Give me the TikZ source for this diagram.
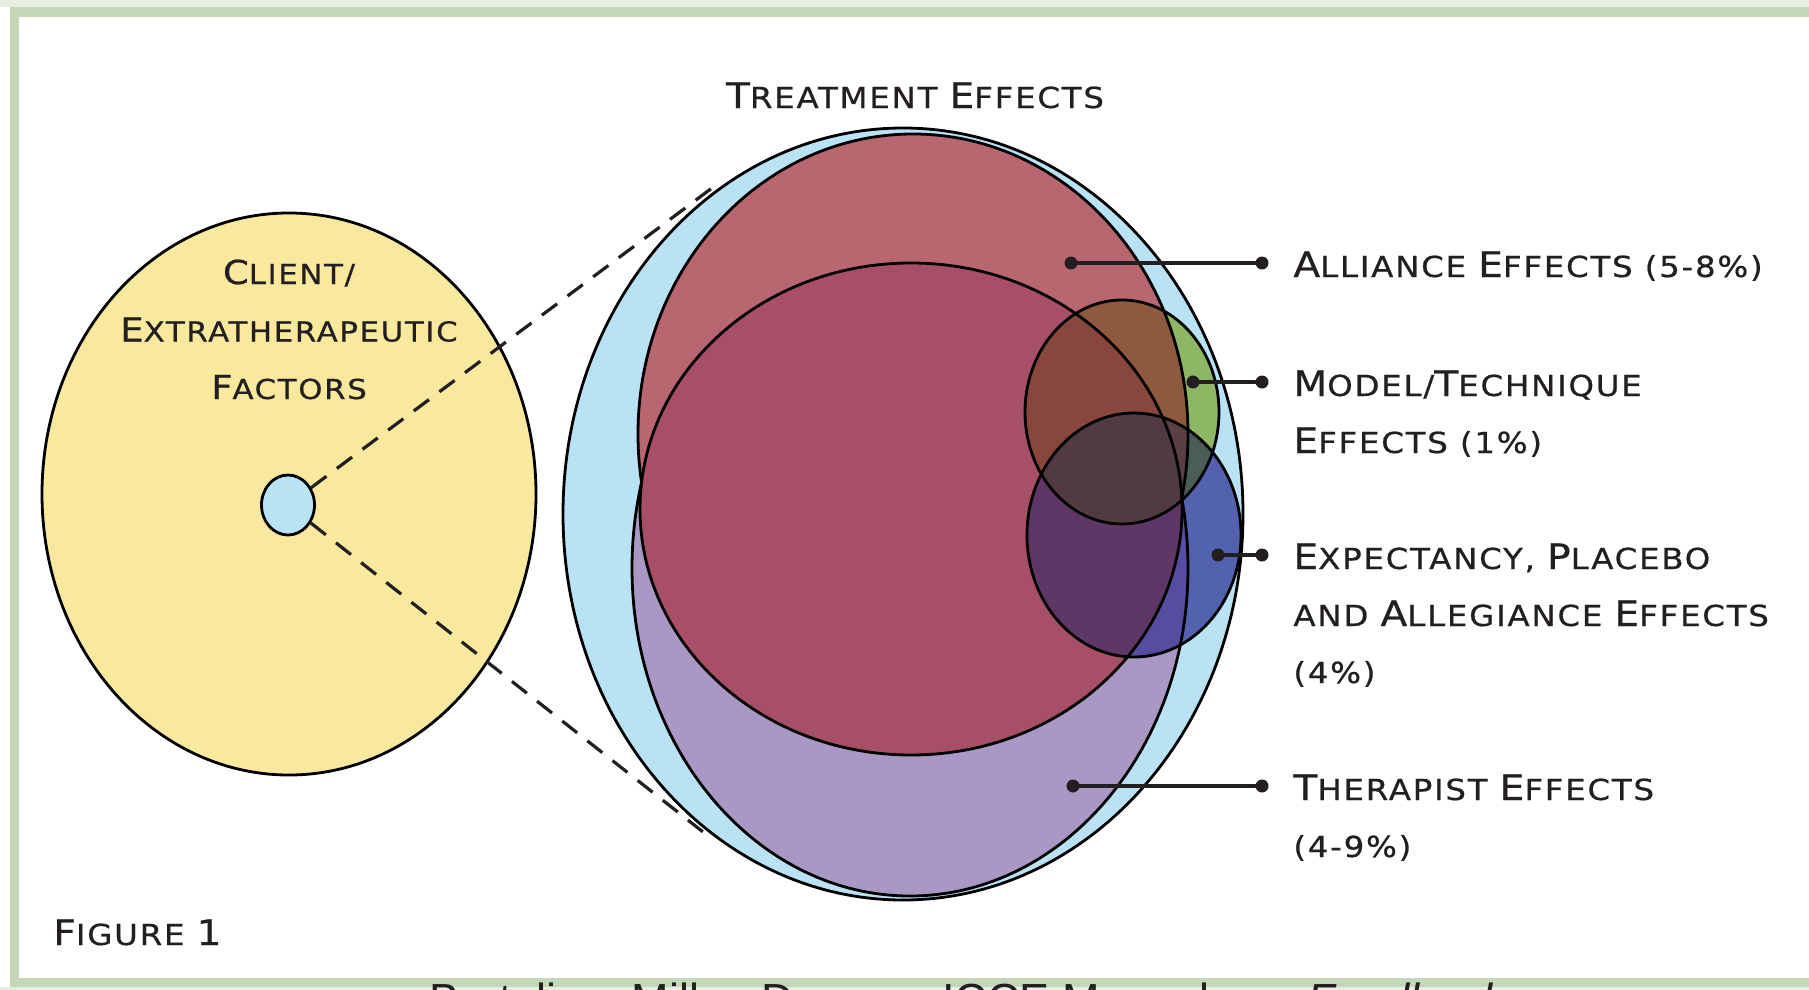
\documentclass[tikz,border=0pt]{standalone}
\usepackage{fontspec}
\usetikzlibrary{shapes.geometric}
\setmainfont{Liberation Sans}
\newfontfamily\bankfont[FakeStretch=1.12,LetterSpace=6,FakeBold=0.6]{DejaVu Sans}
\definecolor{framegreen}{HTML}{C4D7B9}
\definecolor{framelight}{HTML}{E7EFE3}
\definecolor{mytext}{HTML}{231F20}
\definecolor{myyellow}{HTML}{F8E99E}
\definecolor{mysky}{HTML}{B9E3F5}
\definecolor{mypink}{HTML}{B8666F}
\definecolor{mycrimson}{HTML}{A64F66}
\definecolor{mylilac}{HTML}{A998C4}
%% colours of the parts of the two small circles
\definecolor{gsky}{HTML}{8DB764}
\definecolor{gpink}{HTML}{8D5A3F}
\definecolor{gred}{HTML}{88473D}
\definecolor{bsky}{HTML}{5362AE}
\definecolor{blilac}{HTML}{564DA0}
\definecolor{bred}{HTML}{5E3767}
\definecolor{gbsky}{HTML}{4B5D58}
\definecolor{gbpink}{HTML}{5A3F45}
\definecolor{gbred}{HTML}{523A42}
%% big first letter, the rest of the word stays small
\newcommand{\Ini}[2][35]{{\fontsize{#1}{57}\selectfont #2}}
%% the shapes of the treatment side, used more than once
\newcommand{\pinkpath}{(913,434) ellipse [x radius=275, y radius=300]}
\newcommand{\redpath}{(911,509) ellipse [x radius=271, y radius=246]}
\newcommand{\lilacpath}{(910,568) ellipse [x radius=278, y radius=328]}
\newcommand{\greenpath}{(1122,412) ellipse [x radius=97, y radius=112]}
\newcommand{\bluepath}{(1134,535) ellipse [x radius=107, y radius=122]}

\begin{document}
\begin{tikzpicture}[x=1pt,y=-1pt,line width=2.8pt,
	tag/.style={font=\bankfont\fontsize{29}{57}\selectfont, text=mytext, inner xsep=30pt, inner ysep=0pt, anchor=base west, align=left},
	lead/.style={line width=3.5pt, draw=mytext}]
		\useasboundingbox (0,0) rectangle (1809,990);
		\clip (0,0) rectangle (1809,990);
		%% frame of the figure
		\fill[framelight] (0,0) rectangle (1809,7);
		\fill[framelight] (0,987) rectangle (1809,990);
		\draw[framegreen, line width=9.5pt] (14.5,12) rectangle (1850,982.5);
		%% left side: the client ellipse with the small treatment circle in it
		%% (a node with several lines sits on the baseline of its last line)
		\filldraw[fill=myyellow, draw=black] (289,494) ellipse [x radius=247, y radius=281];
		\node[font=\bankfont\fontsize{27.5}{57.5}\selectfont, text=mytext, align=center, anchor=base, inner sep=0pt] (client) at (289,399)
			{\Ini[33]{C}LIENT/\\ \Ini[33]{E}XTRATHERAPEUTIC\\ \Ini[33]{F}ACTORS};
		\node[ellipse, draw=black, fill=mysky, minimum width=53pt, minimum height=60pt, inner sep=0pt] (core) at (288,505) {};
		\coordinate (zoomtop) at (712,188);
		\coordinate (zoombot) at (712,839);
		\draw[dash pattern=on 19pt off 13pt, line width=3.2pt, mytext] (core) -- (zoomtop);
		\draw[dash pattern=on 19pt off 13pt, line width=3.2pt, mytext] (core) -- (zoombot);
		%% right side: the treatment effects
		\filldraw[fill=mysky, draw=black] (903,514) ellipse [x radius=340, y radius=386];
		\filldraw[fill=mylilac, draw=black] \lilacpath;
		\filldraw[fill=mypink, draw=black] \pinkpath;
		\filldraw[fill=mycrimson, draw=black] \redpath;
		%% green circle, one colour for each part it lies on
		\begin{scope}
			\clip \greenpath;
			\fill[gsky] \greenpath;
			\fill[gpink] \pinkpath;
			\fill[gred] \redpath;
		\end{scope}
		%% blue circle, and where it meets the green one
		\begin{scope}
			\clip \bluepath;
			\fill[bsky] \bluepath;
			\fill[blilac] \lilacpath;
			\fill[bred] \pinkpath;
			\fill[bred] \redpath;
			\clip \greenpath;
			\fill[gbsky] \greenpath;
			\fill[gbpink] \pinkpath;
			\fill[gbred] \redpath;
		\end{scope}
		%% outlines that run through the two circles
		\begin{scope}
			\clip \greenpath \bluepath;
			\draw \redpath;
			\begin{scope}
				\clip (0,0) rectangle (1809,498);
				\draw \pinkpath;
			\end{scope}
			\begin{scope}
				\clip (0,498) rectangle (1809,990);
				\draw \lilacpath;
			\end{scope}
		\end{scope}
		\draw \greenpath;
		\draw \bluepath;
		\node[font=\bankfont\fontsize{29}{57}\selectfont, text=mytext, anchor=base, inner sep=0pt] (treat) at (915,108)
			{\Ini{T}REATMENT \Ini{E}FFECTS};
		%% labels on the right
		\node[tag] (alliance) at (1262,277) {\Ini{A}LLIANCE \Ini{E}FFECTS (5-8\%)};
		\node[tag] (model) at (1262,453) {\Ini{M}ODEL/\Ini{T}ECHNIQUE\\ \Ini{E}FFECTS (1\%)};
		\node[tag] (expect) at (1262,683) {\Ini{E}XPECTANCY, \Ini{P}LACEBO\\ AND \Ini{A}LLEGIANCE \Ini{E}FFECTS\\ (4\%)};
		\node[tag] (therapist) at (1262,857) {\Ini{T}HERAPIST \Ini{E}FFECTS\\ (4-9\%)};
		\coordinate (adot) at (1071,263);
		\coordinate (mdot) at (1193,382);
		\coordinate (edot) at (1218,555);
		\coordinate (tdot) at (1073,786);
		\foreach \lab/\pin in {alliance/adot, model/mdot, expect/edot, therapist/tdot}{
			\draw[lead] (\pin) -- (\lab.west |- \pin);
			\fill[mytext] (\pin) circle (6.5) (\lab.west |- \pin) circle (6.5);
		}
		\node[font=\bankfont\fontsize{29}{57}\selectfont, text=mytext, anchor=base west, inner sep=0pt] (fig) at (52,945)
			{\Ini{F}IGURE \Ini{1}};
		%% source line, only its top shows under the frame
		\node[font=\fontsize{45}{50}\selectfont, text=mytext, anchor=base west, inner sep=0pt] (source) at (428,1015)
			{Bertolino, Miller, Duncan, ICCE Manuals on \textit{Feedback}};
	\end{tikzpicture}
\end{document}
